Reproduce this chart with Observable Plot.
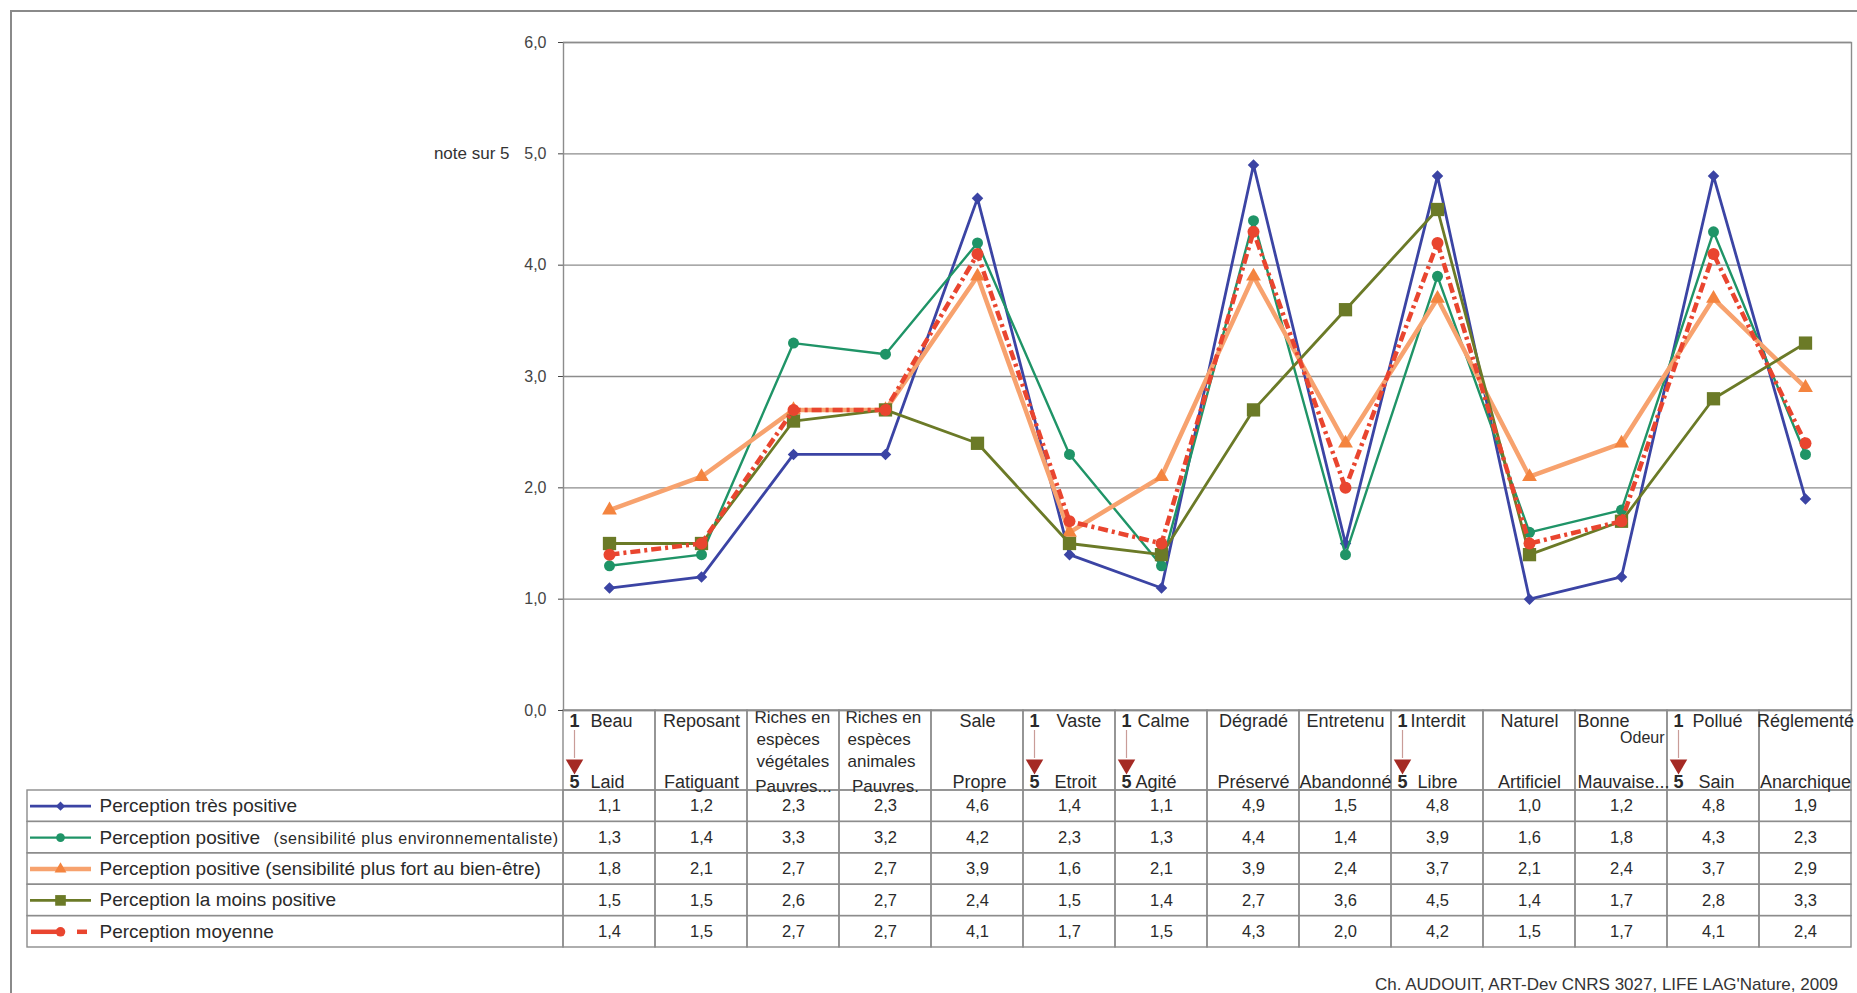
<!DOCTYPE html>
<html><head><meta charset="utf-8">
<script src="https://cdn.jsdelivr.net/npm/d3@7"></script>
<script src="https://cdn.jsdelivr.net/npm/@observablehq/plot@0.6"></script>
<style>
html,body{margin:0;padding:0;background:#fff;overflow:hidden;width:1857px;height:993px;}
#frame{position:absolute;left:10px;top:10px;width:1900px;height:1000px;border-left:2px solid #8a8a8a;border-top:2px solid #8a8a8a;}
#chart{position:absolute;left:0;top:0;z-index:2;}
#table{position:absolute;left:0;top:709px;z-index:1;}
#caption{position:absolute;left:1375px;top:975px;font:17px "Liberation Sans",Arial,sans-serif;color:#333;white-space:nowrap;}
</style></head><body>
<div id="frame"></div>
<div id="chart"></div>
<div id="table"></div>
<div id="caption"></div>
<script>
// ---------- data ----------
const categories = ["Beau","Reposant","Riches en espèces végétales","Riches en espèces animales","Sale","Vaste","Calme","Dégradé","Entretenu","Interdit","Naturel","Bonne Odeur","Pollué","Réglementé"];
const headTop    = ["Beau","Reposant","Riches en","Riches en","Sale","Vaste","Calme","Dégradé","Entretenu","Interdit","Naturel","Bonne","Pollué","Réglementé"];
const headMid1   = ["","","espèces","espèces","","","","","","","","","",""];
const headMid2   = ["","","végétales","animales","","","","","","","","","",""];
const headOdeur  = ["","","","","","","","","","","","Odeur","",""];
const headBottom = ["Laid","Fatiguant","Pauvres...","Pauvres.","Propre","Etroit","Agité","Préservé","Abandonné","Libre","Artificiel","Mauvaise...","Sain","Anarchique"];
const scaleCols  = [true,false,false,false,false,true,true,false,false,true,false,false,true,false];
const scaleTop = "1", scaleBottom = "5";

const seriesNames = ["Perception très positive","Perception positive","Perception positive (sensibilité plus fort au bien-être)","Perception la moins positive","Perception moyenne"];
const seriesNotes = ["","(sensibilité plus environnementaliste)","","",""];

const tresPositive   = [1.1,1.2,2.3,2.3,4.6,1.4,1.1,4.9,1.5,4.8,1.0,1.2,4.8,1.9];
const positiveEnv    = [1.3,1.4,3.3,3.2,4.2,2.3,1.3,4.4,1.4,3.9,1.6,1.8,4.3,2.3];
const positiveBien   = [1.8,2.1,2.7,2.7,3.9,1.6,2.1,3.9,2.4,3.7,2.1,2.4,3.7,2.9];
const moinsPositive  = [1.5,1.5,2.6,2.7,2.4,1.5,1.4,2.7,3.6,4.5,1.4,1.7,2.8,3.3];
const moyenne        = [1.4,1.5,2.7,2.7,4.1,1.7,1.5,4.3,2.0,4.2,1.5,1.7,4.1,2.4];
const seriesValues = [tresPositive, positiveEnv, positiveBien, moinsPositive, moyenne];

const yTicks = [0,1,2,3,4,5,6];
const yLabel = "note sur 5";
const caption = "Ch. AUDOUIT, ART-Dev CNRS 3027, LIFE LAG'Nature, 2009";

// ---------- styles / layout ----------
const FONT = '"Liberation Sans", Arial, sans-serif';
const W = 1857, ML = 563, MR = 6;
const GRID = "#8c8c8c";
const triangleDown = {draw(ctx, size){ const s = Math.sqrt(size*4/Math.sqrt(3)), h = s*Math.sqrt(3)/2; ctx.moveTo(-s/2,-h/3); ctx.lineTo(s/2,-h/3); ctx.lineTo(0,2*h/3); ctx.closePath(); }};
const seriesStyle = [
  {stroke:"#3b44a4", width:2.8, symbol:"diamond2", r:5.2, fill:"#3b44a4", segs:[[3,64]]},
  {stroke:"#1f9467", width:2.4, symbol:"circle", r:5.5, fill:"#1f9467", segs:[[3,64]]},
  {stroke:"#f7a26e", width:4.5, symbol:"triangle", r:5.5, fill:"#f4843f", segs:[[3,64]]},
  {stroke:"#6b7a27", width:2.8, symbol:"square", r:7.5, fill:"#6b7a27", segs:[[3,64]]},
  {stroke:"#e9452f", width:4.5, dash:"10,4,3,4", symbol:"circle", r:6, fill:"#e9452f", segs:[[4,34],[50,60]]}
];
const fmt = v => v.toFixed(1).replace(".", ",");
document.getElementById("caption").textContent = caption;

// ---------- chart ----------
const chartMarks = [
  Plot.ruleY(yTicks, {stroke: GRID, strokeWidth: 1.4}),
  Plot.frame({stroke: GRID, strokeWidth: 1.4}),
  Plot.text([{label: yLabel, v: 5}], {y: "v", text: "label", frameAnchor: "left", dx: -54, textAnchor: "end", fontSize: 17, fill: "#333"})
];
seriesValues.forEach((vals, s) => {
  const st = seriesStyle[s];
  const pts = vals.map((v, i) => ({cat: categories[i], v}));
  chartMarks.push(Plot.line(pts, {x: "cat", y: "v", stroke: st.stroke, strokeWidth: st.width, strokeDasharray: st.dash, strokeLinecap: st.dash ? "butt" : "round"}));
  chartMarks.push(Plot.dot(pts, {x: "cat", y: "v", symbol: st.symbol, r: st.r, fill: st.fill, stroke: "none"}));
});
const chart = Plot.plot({
  width: W, height: 712, marginLeft: ML, marginRight: MR, marginTop: 42, marginBottom: 2,
  style: {background: "transparent", fontFamily: FONT, fontSize: "16px", color: "#444", overflow: "visible"},
  x: {type: "point", domain: categories, padding: 0.5, axis: null},
  y: {domain: [0, 6], ticks: yTicks, tickFormat: fmt, tickSize: 5, tickPadding: 12, label: null},
  marks: chartMarks
});
document.getElementById("chart").appendChild(chart);

// ---------- table ----------
const nCol = categories.length;
const COLW = (W - ML - MR) / nCol;
const ROW = 31.4, HEADPX = 80;
const HEAD = HEADPX / ROW;
const LEG = (ML - 27) / COLW;
const ux = p => p / COLW, uy = p => p / ROW;
const TH = 284, TMT = 1;

const rows = seriesNames.map((name, r) => ({name, note: seriesNotes[r], r}));
const cells = [];
seriesValues.forEach((vals, r) => vals.forEach((v, i) => cells.push({r, i, v})));
const cols = categories.map((c, i) => ({i}));

const headLayout = [
  {top:["start",27], bottom:["start",27]},
  {top:["middle",46], bottom:["middle",46]},
  {top:["start",7], bottom:["middle",46]},
  {top:["start",6], bottom:["middle",46]},
  {top:["middle",46], bottom:["middle",48]},
  {top:["start",33], bottom:["start",31]},
  {top:["start",22], bottom:["start",20]},
  {top:["middle",46], bottom:["middle",46]},
  {top:["middle",46], bottom:["middle",46]},
  {top:["start",19], bottom:["start",26]},
  {top:["middle",46], bottom:["middle",46]},
  {top:["start",2], bottom:["start",2]},
  {top:["start",25], bottom:["start",31]},
  {top:["middle",46], bottom:["middle",46]}
];
const items = [];
categories.forEach((c, i) => {
  const L = headLayout[i];
  const multi = headMid1[i] !== "";
  items.push({i, text: headTop[i], anchor: L.top[0], off: L.top[1], ypx: multi ? 7.5 : 10.7, size: multi ? 17 : 18, weight: "normal"});
  if (multi) {
    items.push({i, text: headMid1[i], anchor: "start", off: L.top[1] + 2, ypx: 29.5, size: 17, weight: "normal"});
    items.push({i, text: headMid2[i], anchor: "start", off: L.top[1] + 2, ypx: 51, size: 17, weight: "normal"});
  }
  if (headOdeur[i]) items.push({i, text: headOdeur[i], anchor: "end", off: 89, ypx: 27, size: 16, weight: "normal"});
  items.push({i, text: headBottom[i], anchor: L.bottom[0], off: L.bottom[1], ypx: multi ? 76 : 71.7, size: multi ? 17 : 18, weight: "normal"});
  if (scaleCols[i]) {
    items.push({i, text: scaleTop, anchor: "start", off: 6, ypx: 10.7, size: 18, weight: "bold"});
    items.push({i, text: scaleBottom, anchor: "start", off: 6, ypx: 71.7, size: 18, weight: "bold"});
  }
});
const arrowCols = cols.filter(d => scaleCols[d.i]);

const tableMarks = [
  Plot.rect(cols, {x1: d => d.i, x2: d => d.i + 1, y1: 0, y2: HEAD, stroke: GRID, strokeWidth: 1.4, fill: "none"}),
  Plot.rect(rows, {x1: -LEG, x2: 0, y1: d => HEAD + d.r, y2: d => HEAD + d.r + 1, stroke: GRID, strokeWidth: 1.4, fill: "none"}),
  Plot.rect(cells, {x1: d => d.i, x2: d => d.i + 1, y1: d => HEAD + d.r, y2: d => HEAD + d.r + 1, stroke: GRID, strokeWidth: 1.4, fill: "none"}),
  Plot.text(cells, {x: d => d.i + 0.5, y: d => HEAD + d.r + 0.5, text: d => fmt(d.v), fontSize: 16.5, fill: "#2a2a2a"}),
  Plot.ruleX(arrowCols, {x: d => d.i + ux(11), y1: uy(20), y2: uy(48), stroke: "#c99c98", strokeWidth: 1.2}),
  Plot.dot(arrowCols, {x: d => d.i + ux(11), y: uy(54), symbol: triangleDown, r: 6.5, fill: "#a52a24", stroke: "none"}),
  Plot.text(rows, {x: -LEG + ux(72), y: d => HEAD + d.r + 0.5, text: "name", textAnchor: "start", fontSize: 19, fill: "#2a2a2a"}),
  Plot.text(rows.filter(d => d.note), {x: -LEG + ux(246), y: d => HEAD + d.r + 0.55, text: "note", textAnchor: "start", fontSize: 16, fill: "#2a2a2a"})
];
d3.groups(items, d => d.anchor + "|" + d.size + "|" + d.weight).forEach(([key, g]) => {
  tableMarks.push(Plot.text(g, {x: d => d.i + ux(d.off), y: d => uy(d.ypx), text: "text", textAnchor: g[0].anchor, fontSize: g[0].size, fontWeight: g[0].weight, fill: "#2a2a2a"}));
});
seriesStyle.forEach((st, r) => {
  const yy = HEAD + r + 0.5;
  st.segs.forEach(([a, b]) => {
    tableMarks.push(Plot.ruleY([yy], {y: d => d, x1: -LEG + ux(a), x2: -LEG + ux(b), stroke: st.stroke, strokeWidth: st.width, strokeLinecap: "butt"}));
  });
  tableMarks.push(Plot.dot([yy], {y: d => d, x: -LEG + ux(33), symbol: st.symbol, r: st.r * 0.8, fill: st.fill, stroke: "none"}));
});

const table = Plot.plot({
  width: W, height: TH, marginLeft: ML, marginRight: MR, marginTop: TMT, marginBottom: TH - TMT - (HEADPX + 5 * ROW),
  style: {background: "transparent", fontFamily: FONT, fontSize: "16px", color: "#333", overflow: "visible"},
  x: {type: "linear", domain: [0, nCol], axis: null},
  y: {type: "linear", domain: [0, HEAD + 5], reverse: true, axis: null},
  marks: tableMarks
});
d3.select(table).selectAll("text").filter(function() { return this.textContent === seriesNotes[1]; }).attr("letter-spacing", 0.6);
document.getElementById("table").appendChild(table);
</script>
</body></html>
